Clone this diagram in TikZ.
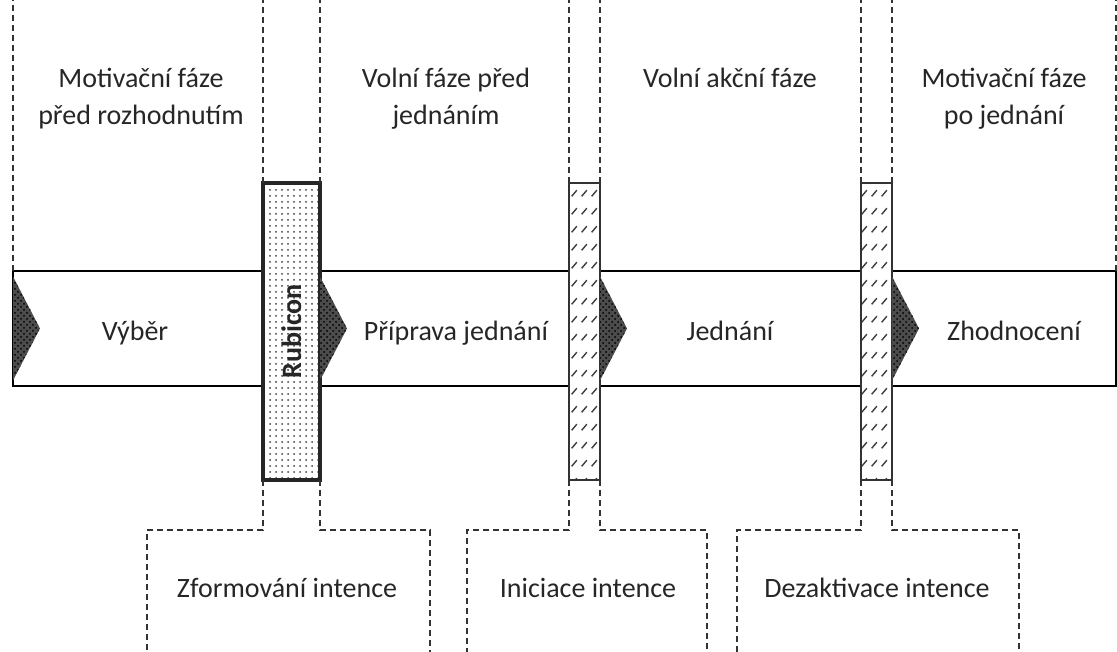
\documentclass[tikz,border=0pt]{standalone}
\usepackage{fontspec}
\setmainfont{Carlito}
\usetikzlibrary{positioning, patterns, patterns.meta}
\tikzset{>=latex}

\tikzdeclarepattern{
  name=slashes, type=uncolored,
  bottom left={(0pt,0pt)}, top right={(5pt,9pt)}, tile size={(5pt,9pt)},
  code={\draw[line width=0.75pt] (0.9pt,3pt) -- (3.7pt,6.2pt);}
}

\begin{document}
\begin{tikzpicture}
    [
        x=0.5pt, y=-0.5pt,
        phase_text/.style={font=\fontsize{14}{18.5}\selectfont, text=black!85, align=center, inner sep=0pt},
        band_box/.style={rectangle, draw=black, line width=1pt, inner sep=0pt, outer sep=0pt, minimum width=551.5pt, minimum height=57.5pt},
        rubicon_box/.style={rectangle, draw=black!85, line width=1.8pt, inner sep=0pt, outer sep=0pt, preaction={fill=white}, pattern=dots, pattern color=black!75, minimum width=28.5pt, minimum height=148.5pt},
        hatch_box/.style={rectangle, draw=black!80, line width=0.8pt, inner sep=0pt, outer sep=0pt, preaction={fill=white}, pattern=slashes, pattern color=black!75, minimum width=15.5pt, minimum height=148.5pt},
        arrowhead/.style={fill=black!70, postaction={pattern=crosshatch dots, pattern color=black}},
        phase/.style={draw=black!80, line width=0.8pt, dash pattern=on 3pt off 2pt},
    ]

  \useasboundingbox (0,0) rectangle (1117,652);
  \coordinate (top) at (0,0);
  \coordinate (bottom) at (0,652);

  % the band and the three switch points
  \node[band_box] (band) at (564.5,328.5) {};
  \node[rubicon_box] (rub) at (291.5,331.5) {};
  \node[hatch_box] (ini) at (584.5,331.5) {};
  \node[hatch_box] (dez) at (876.5,331.5) {};
  \node[phase_text, font=\fontsize{14}{16}\selectfont\bfseries, rotate=90] (rubtext) at (rub.center) {Rubicon};

  \fill[arrowhead] (band.west) ++(0,-52) -- ++(27,52) -- ++(-27,52) -- cycle;
  \fill[arrowhead] (rub.east |- band.center) ++(0,-52) -- ++(27,52) -- ++(-27,52) -- cycle;
  \fill[arrowhead] (ini.east |- band.center) ++(0,-52) -- ++(27,52) -- ++(-27,52) -- cycle;
  \fill[arrowhead] (dez.east |- band.center) ++(0,-52) -- ++(27,52) -- ++(-27,52) -- cycle;

  % phases above
  \draw[phase] (band.north west) -- (band.north west |- top);
  \draw[phase] (rub.north west) -- (rub.north west |- top);
  \draw[phase] (rub.north east) -- (rub.north east |- top);
  \draw[phase] (ini.north west) -- (ini.north west |- top);
  \draw[phase] (ini.north east) -- (ini.north east |- top);
  \draw[phase] (dez.north west) -- (dez.north west |- top);
  \draw[phase] (dez.north east) -- (dez.north east |- top);
  \draw[phase] (band.north east) -- (band.north east |- top);

  \node[phase_text, anchor=base] (mot1) at (141,125) {Motivační fáze\\před rozhodnutím};
  \node[phase_text, anchor=base] (vol1) at (446,125) {Volní fáze před\\jednáním};
  \node[phase_text, anchor=base] (vol2) at (730,88) {Volní akční fáze};
  \node[phase_text, anchor=base] (mot2) at (1004,125) {Motivační fáze\\po jednání};

  % actions in the band
  \node[phase_text, anchor=base] (vyb) at (135,340) {Výběr};
  \node[phase_text, anchor=base] (pri) at (456,340) {Příprava jednání};
  \node[phase_text, anchor=base] (jed) at (730,340) {Jednání};
  \node[phase_text, anchor=base] (zho) at (1014,340) {Zhodnocení};

  % transitions below
  \coordinate (zfL) at (147,530);
  \coordinate (zfR) at (430,530);
  \coordinate (inL) at (467,530);
  \coordinate (inR) at (707,530);
  \coordinate (dzL) at (737,530);
  \coordinate (dzR) at (1019,530);

  \draw[phase] (rub.south west) |- (zfL) -- (zfL |- bottom);
  \draw[phase] (rub.south east) |- (zfR) -- (zfR |- bottom);
  \draw[phase] (ini.south west) |- (inL) -- (inL |- bottom);
  \draw[phase] (ini.south east) |- (inR) -- (inR |- bottom);
  \draw[phase] (dez.south west) |- (dzL) -- (dzL |- bottom);
  \draw[phase] (dez.south east) |- (dzR) -- (dzR |- bottom);

  \node[phase_text, anchor=base] (zfo) at (287,597) {Zformování intence};
  \node[phase_text, anchor=base] (inc) at (588,597) {Iniciace intence};
  \node[phase_text, anchor=base] (dez_text) at (877,597) {Dezaktivace intence};
\end{tikzpicture}
\end{document}
